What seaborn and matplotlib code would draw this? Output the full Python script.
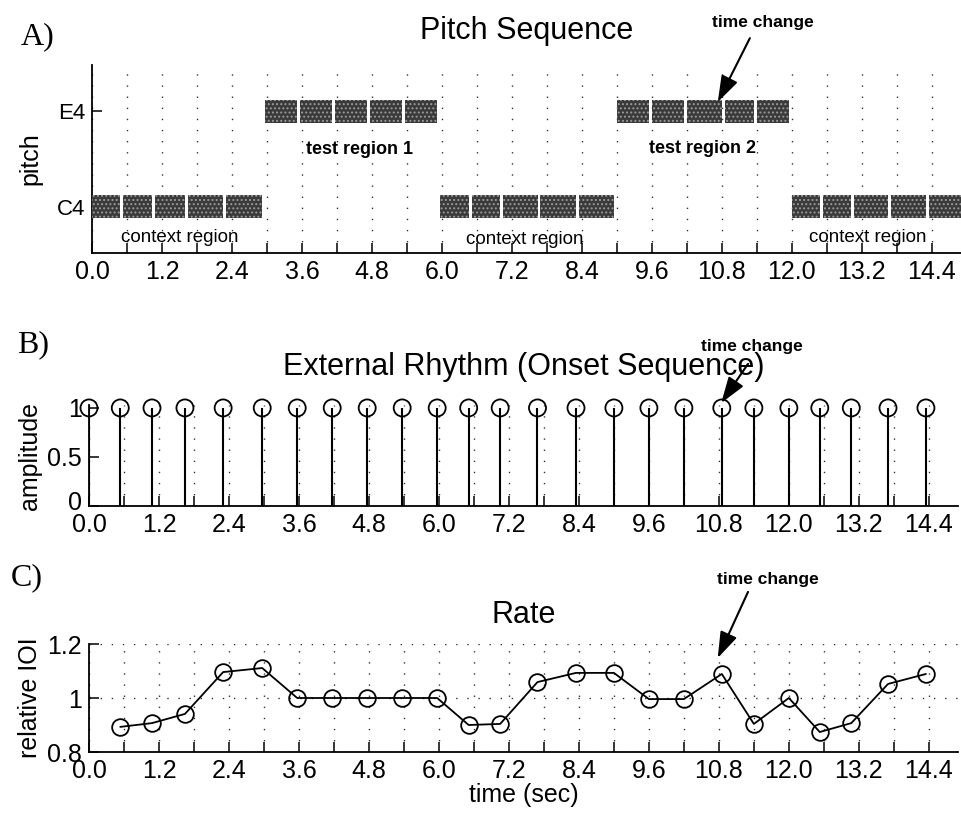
import numpy as np
import matplotlib
matplotlib.use("Agg")
import matplotlib.pyplot as plt
import matplotlib.transforms as mtransforms
import seaborn as sns

# ---------------- data ----------------
onset_times = [0.0, 0.536, 1.08, 1.645, 2.30, 2.97, 3.57, 4.17, 4.77, 5.37,
               5.97, 6.51, 7.05, 7.69, 8.35, 9.0, 9.6, 10.2, 10.85, 11.40,
               12.0, 12.53, 13.07, 13.70, 14.35]
note_pitches = [60, 60, 60, 60, 60, 64, 64, 64, 64, 64,
                60, 60, 60, 60, 60, 64, 64, 64, 64, 64,
                60, 60, 60, 60, 60]
onset_amplitude = [1, 1, 1, 1, 1, 1, 1, 1, 1, 1, 1, 1, 1,
                   1, 1, 1, 1, 1, 1, 1, 1, 1, 1, 1, 1]
rate_times = [0.536, 1.08, 1.645, 2.30, 2.97, 3.57, 4.17, 4.77, 5.37, 5.97,
              6.51, 7.05, 7.69, 8.35, 9.0, 9.6, 10.2, 10.85, 11.40, 12.0,
              12.53, 13.07, 13.70, 14.35]
rate_values = [0.893, 0.907, 0.941, 1.096, 1.111, 1.0, 1.0, 1.0, 1.0, 1.0,
               0.90, 0.904, 1.059, 1.093, 1.093, 0.996, 0.996, 1.089, 0.904, 1.0,
               0.874, 0.907, 1.052, 1.089]
sequence_end = 15.0
pitch_ticks = [60, 64]
pitch_tick_labels = ["C4", "E4"]
time_ticks = [0.0, 0.6, 1.2, 1.8, 2.4, 3.0, 3.6, 4.2, 4.8, 5.4, 6.0, 6.6, 7.2,
              7.8, 8.4, 9.0, 9.6, 10.2, 10.8, 11.4, 12.0, 12.6, 13.2, 13.8, 14.4]
time_tick_labels = ["0.0", "", "1.2", "", "2.4", "", "3.6", "", "4.8", "", "6.0", "",
                    "7.2", "", "8.4", "", "9.6", "", "10.8", "", "12.0", "", "13.2", "", "14.4"]
amp_ticks = [0, 0.5, 1]
amp_tick_labels = ["0", "0.5", "1"]
rate_ticks = [0.8, 1.0, 1.2]
rate_tick_labels = ["0.8", "1", "1.2"]

# ---------------- style ----------------
sns.set_theme(style="ticks")
plt.rcParams["font.family"] = ["Liberation Sans", "DejaVu Sans"]
plt.rcParams["hatch.linewidth"] = 0.9
plt.rcParams["axes.linewidth"] = 1.3
plt.rcParams["text.color"] = "black"
plt.rcParams["axes.labelcolor"] = "black"
plt.rcParams["axes.titlecolor"] = "black"
plt.rcParams["xtick.color"] = "black"
plt.rcParams["ytick.color"] = "black"
plt.rcParams["xtick.labelcolor"] = "black"
plt.rcParams["ytick.labelcolor"] = "black"

W, H = 962, 817
fig = plt.figure(figsize=(W / 100, H / 100), dpi=100)
fig.patch.set_facecolor("white")

def frac(l, t, r, b):
    return [l / W, 1 - b / H, (r - l) / W, (b - t) / H]

axA = fig.add_axes(frac(92, 65, 961, 253))
axB = fig.add_axes(frac(89, 405, 958, 506))
axC = fig.add_axes(frac(89, 644, 958, 752))

grid_kw = dict(color="0.2", linestyle=(0, (1, 7)), linewidth=1.0)
XMAX = 14.9

def style_axis(ax):
    ax.set_facecolor("white")
    for s in ["top", "right"]:
        ax.spines[s].set_visible(False)
    for s in ["left", "bottom"]:
        ax.spines[s].set_color("black")
        ax.spines[s].set_linewidth(1.3)
    ax.set_xlim(0, XMAX)
    ax.set_xticks(time_ticks)
    ax.set_xticklabels(time_tick_labels)
    ax.tick_params(axis="both", direction="in", length=7, width=1.1,
                   colors="black", labelcolor="black", labelsize=18, pad=5)
    ax.set_axisbelow(True)

arrow_kw = dict(arrowstyle="-|>,head_length=0.8,head_width=0.27",
                color="black", lw=1.5, shrinkA=0, shrinkB=0, mutation_scale=20)

def time_change(ax, text_xy, tail_xy, head_xy):
    ax.text(*text_xy, "time change", ha="center", va="center", color="black",
            fontsize=12.5, fontweight="bold", clip_on=False)
    ax.annotate("", xy=head_xy, xytext=tail_xy, arrowprops=arrow_kw,
                annotation_clip=False)

# ---------------- A) Pitch sequence ----------------
style_axis(axA)
ends = onset_times[1:] + [sequence_end]
note_gap = 0.05
durations = [e - s - note_gap for s, e in zip(onset_times, ends)]
axA.bar(onset_times, 0.96, width=durations,
        bottom=[p - 0.48 for p in note_pitches], align="edge",
        color="#3a3a3a", edgecolor="#9c9c9c", hatch="....", linewidth=0,
        zorder=3)
axA.set_ylim(58.08, 65.92)
axA.set_yticks(pitch_ticks)
axA.set_yticklabels(pitch_tick_labels)
axA.tick_params(axis="y", labelsize=16)
axA.grid(axis="x", **grid_kw)
axA.grid(axis="y", visible=False)
axA.set_ylabel("pitch", fontsize=18, labelpad=10)
axA.set_title("Pitch Sequence", fontsize=22, pad=19)
axA.text(1.51, 58.71, "context region", ha="center", va="center", fontsize=13.5)
axA.text(7.42, 58.66, "context region", ha="center", va="center", fontsize=13.5)
axA.text(13.30, 58.71, "context region", ha="center", va="center", fontsize=13.5)
axA.text(4.59, 62.38, "test region 1", ha="center", va="center",
         fontsize=13, fontweight="bold")
axA.text(10.46, 62.42, "test region 2", ha="center", va="center",
         fontsize=13, fontweight="bold")
time_change(axA, (11.50, 67.71), (11.28, 67.04), (10.73, 64.38))

# ---------------- B) External rhythm ----------------
style_axis(axB)
axB.vlines(onset_times, 0, onset_amplitude, color="black", lw=1.5, zorder=3)
sns.scatterplot(x=onset_times, y=onset_amplitude, ax=axB, marker="o", s=150,
                facecolors="none", edgecolors="black", linewidth=1.3,
                zorder=4, clip_on=False, legend=False)
axB.set_ylim(0, 1.03)
axB.set_yticks(amp_ticks)
axB.set_yticklabels(amp_tick_labels)
axB.grid(axis="x", **grid_kw)
axB.grid(axis="y", visible=False)
axB.set_ylabel("amplitude", fontsize=18, labelpad=4)
axB.set_title("External Rhythm (Onset Sequence)", fontsize=22, pad=21.5)
time_change(axB, (11.37, 1.63), (11.30, 1.45), (10.84, 1.05))
# lift the "0" label a little so it only just touches the x labels, as in the reference
zero_label = axB.get_yticklabels()[0]
zero_label.set_transform(zero_label.get_transform() +
                         mtransforms.ScaledTranslation(0, 5 / 100, fig.dpi_scale_trans))

# ---------------- C) Rate ----------------
style_axis(axC)
sns.lineplot(x=rate_times, y=rate_values, ax=axC, color="black", lw=1.3,
             marker="o", markersize=12, markerfacecolor="none",
             markeredgecolor="black", markeredgewidth=1.3, zorder=3,
             clip_on=False)
axC.set_ylim(0.8, 1.2)
axC.set_yticks(rate_ticks)
axC.set_yticklabels(rate_tick_labels)
axC.grid(axis="both", **grid_kw)
axC.set_ylabel("relative IOI", fontsize=18, labelpad=4)
axC.set_xlabel("time (sec)", fontsize=18, labelpad=0)
axC.set_title("Rate", fontsize=22, pad=15)
time_change(axC, (11.64, 1.44), (11.30, 1.393), (10.78, 1.148))

# ---------------- panel letters ----------------
for letter, x, y in [("A)", 38, 37), ("B)", 33, 345), ("C)", 27, 578)]:
    fig.text(x / W, 1 - y / H, letter, ha="center", va="center", fontsize=23,
             color="black", family=["Liberation Serif", "DejaVu Serif"])

fig.savefig("out.png", dpi=100, facecolor="white")
